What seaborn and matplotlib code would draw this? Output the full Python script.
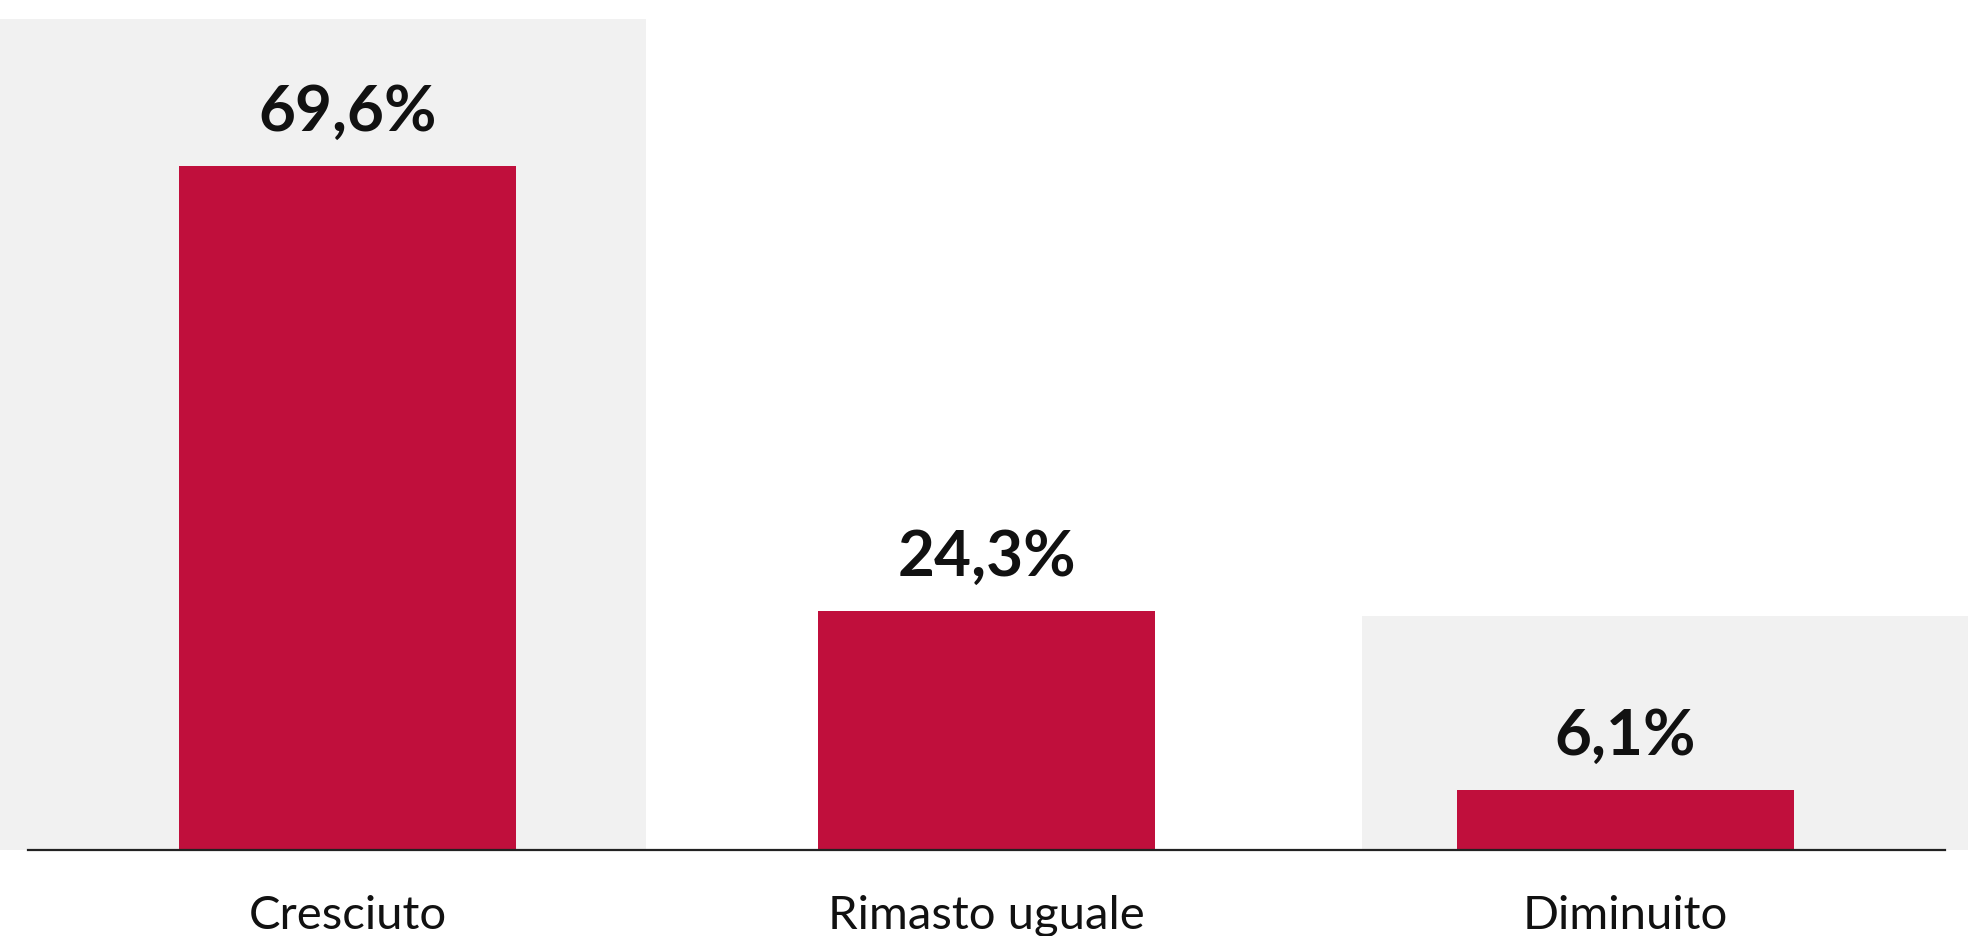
import matplotlib
matplotlib.use("Agg")
import matplotlib.pyplot as plt
from matplotlib.patches import Rectangle
import seaborn as sns
import pandas as pd

# Data
categories = ["Cresciuto", "Rimasto uguale", "Diminuito"]
values = [69.6, 24.3, 6.1]
value_labels = ["69,6%", "24,3%", "6,1%"]

BAR_COLOR = "#C00F3C"
PANEL_COLOR = "#F1F1F1"

sns.set_theme(style="white")
plt.rcParams["font.family"] = ["Lato", "DejaVu Sans"]

W, H = 1968, 936
fig = plt.figure(figsize=(W / 100, H / 100), dpi=100)
fig.patch.set_facecolor("white")

# Axes spans the baseline from x=28 to x=1945 px, baseline at y=850 px from top
ax = fig.add_axes([28 / W, 86 / H, 1917 / W, 850 / H])
ax.patch.set_alpha(0)

# Decorative light-grey panels behind the first and last bars
fig.patches.append(Rectangle((0, 86 / H), 646 / W, (850 - 19) / H,
                             transform=fig.transFigure, facecolor=PANEL_COLOR,
                             edgecolor="none", zorder=-5))
fig.patches.append(Rectangle((1362 / W, 86 / H), 1 - 1362 / W, (850 - 616) / H,
                             transform=fig.transFigure, facecolor=PANEL_COLOR,
                             edgecolor="none", zorder=-5))

df = pd.DataFrame({"categoria": categories, "valore": values})
sns.barplot(data=df, x="categoria", y="valore", color=BAR_COLOR,
            saturation=1, width=0.527, ax=ax, edgecolor="none")

ax.set_xlim(-0.5, 2.5)
ax.set_ylim(0, 86.5)

for i, (v, lab) in enumerate(zip(values, value_labels)):
    ax.text(i, v + 3.55, lab, ha="center", va="baseline",
            fontsize=46, fontweight="bold", color="#111111")

for s in ["top", "right", "left"]:
    ax.spines[s].set_visible(False)
ax.spines["bottom"].set_color("#222222")
ax.spines["bottom"].set_linewidth(1.6)
ax.set_yticks([])
ax.set_xlabel("")
ax.set_ylabel("")
ax.tick_params(axis="x", length=0, pad=57)
for t in ax.get_xticklabels():
    t.set_fontsize(34)
    t.set_fontweight("normal")
    t.set_color("#111111")
    t.set_va("baseline")

fig.savefig("out.png", dpi=100)
